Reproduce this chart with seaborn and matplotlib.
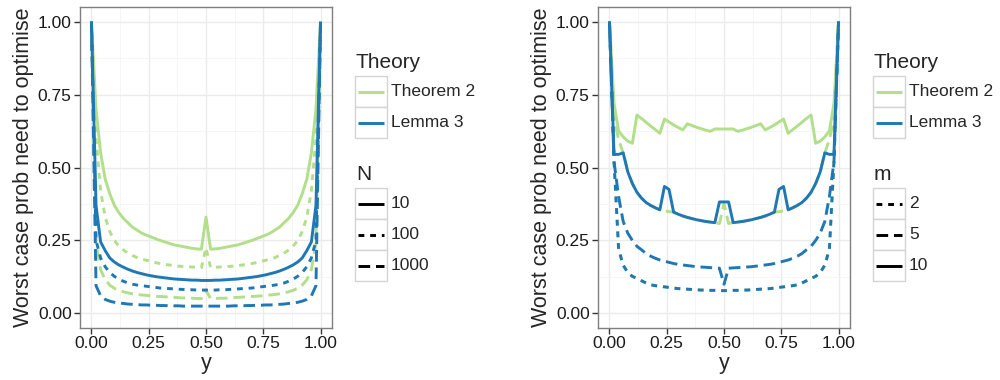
import numpy as np
import pandas as pd
import matplotlib
matplotlib.use("Agg")
import matplotlib.pyplot as plt
import seaborn as sns
from matplotlib.lines import Line2D
from matplotlib.patches import Rectangle
from matplotlib.ticker import MultipleLocator, FormatStrFormatter

# ---------------- data ----------------
y_grid = [0.00, 0.02, 0.04, 0.06, 0.08, 0.10, 0.12, 0.14, 0.16, 0.18, 0.20, 0.22, 0.24,
          0.26, 0.28, 0.30, 0.32, 0.34, 0.36, 0.38, 0.40, 0.42, 0.44, 0.46, 0.48, 0.50,
          0.52, 0.54, 0.56, 0.58, 0.60, 0.62, 0.64, 0.66, 0.68, 0.70, 0.72, 0.74, 0.76,
          0.78, 0.80, 0.82, 0.84, 0.86, 0.88, 0.90, 0.92, 0.94, 0.96, 0.98, 1.00]

theories = ["Theorem 2", "Lemma 3"]
N_levels = ["10", "100", "1000"]
m_levels = ["2", "5", "10"]

# Left panel (by N)
thm2_N10 = [1.00, 0.70, 0.55, 0.46, 0.41, 0.37, 0.345, 0.325, 0.31, 0.295, 0.285, 0.275, 0.268,
            0.262, 0.256, 0.25, 0.245, 0.24, 0.235, 0.232, 0.229, 0.226, 0.223, 0.221, 0.22, 0.33,
            0.22, 0.221, 0.223, 0.226, 0.229, 0.232, 0.235, 0.24, 0.245, 0.25, 0.256, 0.262, 0.268,
            0.275, 0.285, 0.295, 0.31, 0.325, 0.345, 0.37, 0.41, 0.46, 0.55, 0.70, 1.00]
thm2_N100 = [1.00, 0.60, 0.42, 0.33, 0.28, 0.25, 0.23, 0.217, 0.206, 0.198, 0.191, 0.186, 0.182,
             0.178, 0.174, 0.171, 0.168, 0.166, 0.164, 0.162, 0.161, 0.16, 0.159, 0.158, 0.157, 0.225,
             0.157, 0.158, 0.159, 0.16, 0.161, 0.162, 0.164, 0.166, 0.168, 0.171, 0.174, 0.178, 0.182,
             0.186, 0.191, 0.198, 0.206, 0.217, 0.23, 0.25, 0.28, 0.33, 0.42, 0.60, 1.00]
thm2_N1000 = [1.00, 0.24, 0.15, 0.115, 0.097, 0.086, 0.079, 0.074, 0.07, 0.067, 0.065, 0.063, 0.062,
              0.06, 0.059, 0.058, 0.057, 0.056, 0.055, 0.054, 0.053, 0.052, 0.052, 0.051, 0.051, 0.08,
              0.051, 0.051, 0.052, 0.052, 0.053, 0.054, 0.055, 0.056, 0.057, 0.058, 0.059, 0.06, 0.062,
              0.063, 0.065, 0.067, 0.07, 0.074, 0.079, 0.086, 0.097, 0.115, 0.15, 0.24, 1.00]
lem3_N10 = [1.00, 0.37, 0.245, 0.215, 0.19, 0.176, 0.166, 0.158, 0.151, 0.145, 0.14, 0.136, 0.132,
            0.129, 0.126, 0.124, 0.122, 0.12, 0.118, 0.117, 0.116, 0.115, 0.114, 0.114, 0.113, 0.113,
            0.113, 0.114, 0.114, 0.115, 0.116, 0.117, 0.118, 0.12, 0.122, 0.124, 0.126, 0.129, 0.132,
            0.136, 0.14, 0.145, 0.151, 0.158, 0.166, 0.176, 0.19, 0.215, 0.245, 0.37, 1.00]
lem3_N100 = [1.00, 0.25, 0.19, 0.16, 0.14, 0.127, 0.117, 0.11, 0.104, 0.10, 0.097, 0.095, 0.093,
             0.091, 0.089, 0.087, 0.086, 0.085, 0.084, 0.083, 0.082, 0.081, 0.081, 0.08, 0.08, 0.08,
             0.08, 0.08, 0.081, 0.081, 0.082, 0.083, 0.084, 0.085, 0.086, 0.087, 0.089, 0.091, 0.093,
             0.095, 0.097, 0.10, 0.104, 0.11, 0.117, 0.127, 0.14, 0.16, 0.19, 0.25, 1.00]
lem3_N1000 = [1.00, 0.095, 0.06, 0.048, 0.042, 0.038, 0.036, 0.034, 0.032, 0.031, 0.03, 0.029, 0.029,
              0.028, 0.028, 0.027, 0.027, 0.026, 0.026, 0.026, 0.025, 0.025, 0.025, 0.025, 0.025, 0.025,
              0.025, 0.025, 0.025, 0.025, 0.025, 0.026, 0.026, 0.026, 0.027, 0.027, 0.028, 0.028, 0.029,
              0.029, 0.03, 0.031, 0.032, 0.034, 0.036, 0.038, 0.042, 0.048, 0.06, 0.095, 1.00]

# Right panel (by m)
thm2_m2 = [1.00, 0.52, 0.22, 0.165, 0.14, 0.127, 0.12, 0.112, 0.104, 0.098, 0.095, 0.093, 0.091,
           0.089, 0.087, 0.085, 0.084, 0.083, 0.082, 0.081, 0.08, 0.08, 0.079, 0.079, 0.078, 0.078,
           0.078, 0.079, 0.079, 0.08, 0.08, 0.081, 0.082, 0.083, 0.084, 0.085, 0.087, 0.089, 0.091,
           0.093, 0.095, 0.098, 0.104, 0.112, 0.12, 0.127, 0.14, 0.165, 0.22, 0.52, 1.00]
thm2_m5 = [1.00, 0.67, 0.595, 0.55, 0.485, 0.445, 0.415, 0.395, 0.38, 0.37, 0.362, 0.355, 0.351,
           0.349, 0.347, 0.34, 0.334, 0.329, 0.325, 0.321, 0.318, 0.315, 0.313, 0.311, 0.308, 0.375,
           0.308, 0.311, 0.313, 0.315, 0.318, 0.321, 0.325, 0.329, 0.334, 0.34, 0.347, 0.349, 0.351,
           0.355, 0.362, 0.37, 0.38, 0.395, 0.415, 0.445, 0.485, 0.55, 0.595, 0.67, 1.00]
thm2_m10 = [1.00, 0.72, 0.625, 0.605, 0.59, 0.583, 0.68, 0.668, 0.655, 0.642, 0.63, 0.617, 0.666,
            0.656, 0.646, 0.637, 0.629, 0.65, 0.644, 0.638, 0.633, 0.628, 0.624, 0.632, 0.632, 0.632,
            0.632, 0.632, 0.624, 0.628, 0.633, 0.638, 0.644, 0.65, 0.629, 0.637, 0.646, 0.656, 0.666,
            0.617, 0.63, 0.642, 0.655, 0.668, 0.68, 0.583, 0.59, 0.605, 0.625, 0.72, 1.00]
lem3_m2 = [1.00, 0.52, 0.22, 0.165, 0.14, 0.127, 0.12, 0.112, 0.104, 0.098, 0.095, 0.093, 0.091,
           0.089, 0.087, 0.085, 0.084, 0.083, 0.082, 0.081, 0.08, 0.08, 0.079, 0.079, 0.078, 0.078,
           0.078, 0.079, 0.079, 0.08, 0.08, 0.081, 0.082, 0.083, 0.084, 0.085, 0.087, 0.089, 0.091,
           0.093, 0.095, 0.098, 0.104, 0.112, 0.12, 0.127, 0.14, 0.165, 0.22, 0.52, 1.00]
lem3_m5 = [1.00, 0.52, 0.40, 0.315, 0.275, 0.25, 0.23, 0.218, 0.205, 0.196, 0.189, 0.183, 0.179,
           0.175, 0.171, 0.168, 0.166, 0.164, 0.162, 0.16, 0.159, 0.158, 0.157, 0.156, 0.155, 0.10,
           0.155, 0.156, 0.157, 0.158, 0.159, 0.16, 0.162, 0.164, 0.166, 0.168, 0.171, 0.175, 0.179,
           0.183, 0.189, 0.196, 0.205, 0.218, 0.23, 0.25, 0.275, 0.315, 0.40, 0.52, 1.00]
lem3_m10 = [1.00, 0.545, 0.545, 0.55, 0.485, 0.445, 0.415, 0.395, 0.38, 0.37, 0.362, 0.355, 0.435,
            0.425, 0.347, 0.34, 0.334, 0.329, 0.325, 0.321, 0.318, 0.315, 0.313, 0.311, 0.382, 0.382,
            0.382, 0.311, 0.313, 0.315, 0.318, 0.321, 0.325, 0.329, 0.334, 0.34, 0.347, 0.425, 0.435,
            0.355, 0.362, 0.37, 0.38, 0.395, 0.415, 0.445, 0.485, 0.55, 0.545, 0.545, 1.00]

left_series = {("Theorem 2", "10"): thm2_N10, ("Theorem 2", "100"): thm2_N100,
               ("Theorem 2", "1000"): thm2_N1000, ("Lemma 3", "10"): lem3_N10,
               ("Lemma 3", "100"): lem3_N100, ("Lemma 3", "1000"): lem3_N1000}
right_series = {("Theorem 2", "2"): thm2_m2, ("Theorem 2", "5"): thm2_m5,
                ("Theorem 2", "10"): thm2_m10, ("Lemma 3", "2"): lem3_m2,
                ("Lemma 3", "5"): lem3_m5, ("Lemma 3", "10"): lem3_m10}


def long_df(series, key):
    rows = []
    for (th, lv), vals in series.items():
        for xv, pv in zip(y_grid, vals):
            rows.append({"y": xv, "prob": pv, "Theory": th, key: lv})
    return pd.DataFrame(rows)


df_left = long_df(left_series, "N")
df_right = long_df(right_series, "m")

# ---------------- style ----------------
sns.set_theme(style="white")
plt.rcParams["font.family"] = ["Liberation Sans", "DejaVu Sans"]
plt.rcParams["lines.solid_capstyle"] = "butt"
plt.rcParams["lines.dash_capstyle"] = "butt"

palette = {"Theorem 2": "#B2DF8A", "Lemma 3": "#1F78B4"}
DOT = (2, 2)
DASH = (4, 2)
dashes_N = {"10": "", "100": DOT, "1000": DASH}
dashes_m = {"2": DOT, "5": DASH, "10": ""}
LW = 2.1

W, H = 1000, 380
fig = plt.figure(figsize=(W / 100, H / 100), dpi=100)


def px_axes(l, t, r, b):
    return fig.add_axes([l / W, 1 - b / H, (r - l) / W, (b - t) / H])


ax1 = px_axes(80, 7, 332, 328)
ax2 = px_axes(598, 7, 850, 328)

sns.lineplot(data=df_left, x="y", y="prob", hue="Theory", style="N",
             hue_order=theories, style_order=N_levels, palette=palette,
             dashes=dashes_N, estimator=None, sort=False, linewidth=LW,
             legend=False, ax=ax1)
sns.lineplot(data=df_right, x="y", y="prob", hue="Theory", style="m",
             hue_order=theories, style_order=m_levels, palette=palette,
             dashes=dashes_m, estimator=None, sort=False, linewidth=LW,
             legend=False, ax=ax2)

for ax in (ax1, ax2):
    ax.set_xlim(-0.05, 1.05)
    ax.set_ylim(-0.05, 1.05)
    ax.xaxis.set_major_locator(MultipleLocator(0.25))
    ax.yaxis.set_major_locator(MultipleLocator(0.25))
    ax.xaxis.set_minor_locator(MultipleLocator(0.125))
    ax.yaxis.set_minor_locator(MultipleLocator(0.125))
    ax.xaxis.set_major_formatter(FormatStrFormatter("%.2f"))
    ax.yaxis.set_major_formatter(FormatStrFormatter("%.2f"))
    ax.grid(True, which="major", color="#EBEBEB", linewidth=1.0)
    ax.grid(True, which="minor", color="#F5F5F5", linewidth=0.6)
    ax.set_axisbelow(True)
    ax.set_facecolor("white")
    for s in ax.spines.values():
        s.set_color("#7F7F7F")
        s.set_linewidth(1.0)
    ax.tick_params(axis="both", which="major", length=4, width=1, color="#333333",
                   labelsize=12.5, labelcolor="#1A1A1A", pad=2,
                   bottom=True, left=True)
    ax.tick_params(axis="both", which="minor", length=0)
    ax.set_xlabel("y", fontsize=15.5, labelpad=1)
    ax.set_ylabel("Worst case prob need to optimise", fontsize=15.5, labelpad=3)


# ---------------- legends (ggplot-like) ----------------
def fx(px):
    return px / W


def fy(py):
    return 1 - py / H


def legend_block(x0, title2, levels, dash_map):
    kw, kh = 32, 31
    fig.text(fx(x0 + 1), fy(62), "Theory", fontsize=15, va="center", ha="left")
    tops = [76, 107]
    for th, t in zip(theories, tops):
        fig.add_artist(Rectangle((fx(x0), fy(t + kh)), kw / W, kh / H, transform=fig.transFigure,
                                 facecolor="white", edgecolor="#D4D4D4", linewidth=1.0))
        fig.add_artist(Line2D([fx(x0 + 3), fx(x0 + kw - 3)], [fy(t + kh / 2)] * 2,
                              transform=fig.transFigure, color=palette[th], linewidth=LW,
                              solid_capstyle="butt"))
        fig.text(fx(x0 + kw + 4), fy(t + kh / 2), th, fontsize=12.5, va="center", ha="left")
    fig.text(fx(x0 + 1), fy(175), title2, fontsize=15, va="center", ha="left")
    tops2 = [188, 219, 250]
    for lv, t in zip(levels, tops2):
        fig.add_artist(Rectangle((fx(x0), fy(t + kh)), kw / W, kh / H, transform=fig.transFigure,
                                 facecolor="white", edgecolor="#D4D4D4", linewidth=1.0))
        d = dash_map[lv]
        ln = Line2D([fx(x0 + 3), fx(x0 + kw - 3)], [fy(t + kh / 2)] * 2,
                    transform=fig.transFigure, color="black", linewidth=LW)
        if d != "":
            ln.set_dashes(d)
        fig.add_artist(ln)
        fig.text(fx(x0 + kw + 4), fy(t + kh / 2), lv, fontsize=12.5, va="center", ha="left")


legend_block(355, "N", N_levels, dashes_N)
legend_block(873, "m", m_levels, dashes_m)

fig.savefig("out.png", dpi=100)
